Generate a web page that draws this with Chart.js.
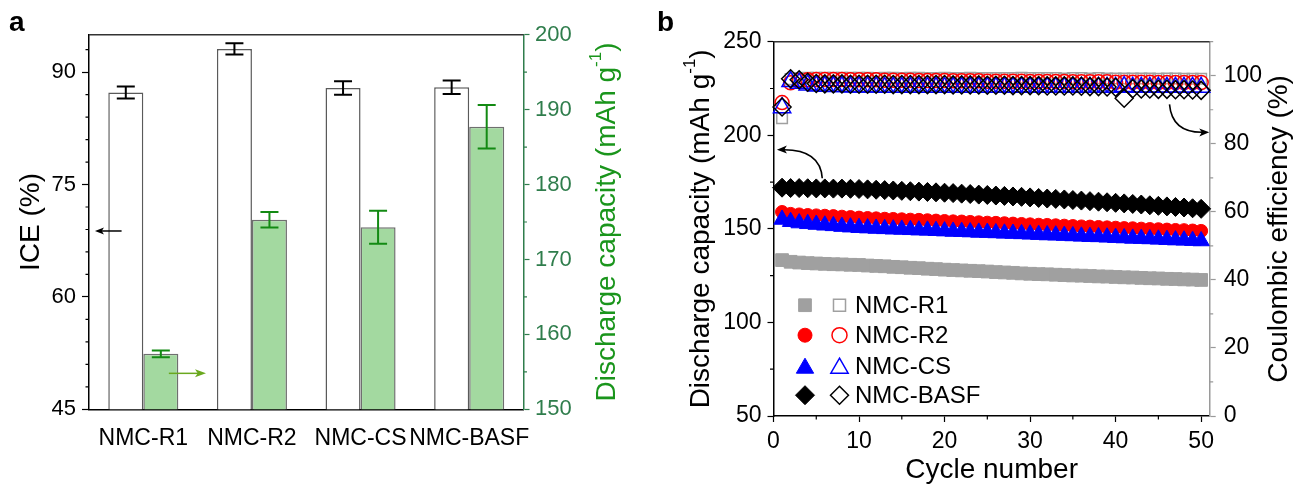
<!DOCTYPE html>
<html>
<head>
<meta charset="utf-8">
<script src="https://cdn.jsdelivr.net/npm/chart.js@4/dist/chart.umd.min.js"></script>
<style>
  html, body { margin: 0; padding: 0; background: #fff; }
  #wrap { position: relative; width: 1297px; height: 490px; overflow: hidden; }
  #chartA { position: absolute; left: 0; top: 0; }
  #chartB { position: absolute; left: 650px; top: 0; }
</style>
</head>
<body>
<div id="wrap">
  <canvas id="chartA" width="650" height="490"></canvas>
  <canvas id="chartB" width="647" height="490"></canvas>
</div>
<script>
// ---- panel a data ----
const categories = ["NMC-R1", "NMC-R2", "NMC-CS", "NMC-BASF"];
const iceValues = [87.3, 93.1, 87.9, 88.0];
const iceErrors = [0.8, 0.75, 0.9, 0.9];
const capValues = [157.4, 175.3, 174.3, 187.7];
const capErrors = [0.45, 1.05, 2.2, 2.9];
const iceTicks = [45, 60, 75, 90];
const iceMinorTicks = [48, 51, 54, 57, 63, 66, 69, 72, 78, 81, 84, 87, 93];
const capTicks = [150, 160, 170, 180, 190, 200];
const capMinorTicks = [155, 165, 175, 185, 195];

// ---- panel b data ----
const cycles = [1, 2, 3, 4, 5, 6, 7, 8, 9, 10, 11, 12, 13, 14, 15, 16, 17, 18, 19, 20,
  21, 22, 23, 24, 25, 26, 27, 28, 29, 30, 31, 32, 33, 34, 35, 36, 37, 38, 39, 40,
  41, 42, 43, 44, 45, 46, 47, 48, 49, 50];
const seriesNames = ["NMC-R1", "NMC-R2", "NMC-CS", "NMC-BASF"];

const capR1 = [133.3, 132.4, 132.0, 131.7, 131.5, 131.3, 131.1, 131.0, 130.8, 130.7,
  130.4, 130.2, 130.0, 129.7, 129.5, 129.2, 129.0, 128.7, 128.5, 128.2,
  128.0, 127.8, 127.6, 127.4, 127.2, 126.9, 126.7, 126.5, 126.2, 126.0,
  125.8, 125.7, 125.5, 125.3, 125.1, 125.0, 124.8, 124.6, 124.5, 124.3,
  124.1, 124.0, 123.8, 123.6, 123.5, 123.3, 123.2, 123.0, 122.9, 122.7];
const capR2 = [159.0, 158.0, 157.7, 157.4, 157.2, 157.0, 156.8, 156.5, 156.3, 156.0,
  155.8, 155.6, 155.4, 155.3, 155.1, 154.9, 154.8, 154.6, 154.4, 154.2,
  154.0, 153.9, 153.7, 153.5, 153.3, 153.2, 153.0, 152.8, 152.6, 152.4,
  152.2, 152.1, 151.9, 151.7, 151.5, 151.3, 151.2, 151.0, 150.8, 150.6,
  150.4, 150.3, 150.1, 149.9, 149.8, 149.6, 149.4, 149.3, 149.1, 148.9];
const capCS = [155.0, 153.8, 153.1, 152.7, 152.3, 151.9, 151.6, 151.2, 150.9, 150.6,
  150.4, 150.2, 150.0, 149.8, 149.7, 149.5, 149.3, 149.2, 149.0, 148.8,
  148.6, 148.5, 148.3, 148.1, 148.0, 147.8, 147.6, 147.5, 147.3, 147.1,
  146.9, 146.7, 146.6, 146.4, 146.2, 146.0, 145.8, 145.7, 145.5, 145.3,
  145.1, 144.9, 144.8, 144.6, 144.4, 144.2, 144.0, 143.9, 143.7, 143.5];
const capBASF = [172.0, 171.8, 171.8, 171.7, 171.6, 171.6, 171.5, 171.5, 171.4, 171.3,
  171.1, 170.9, 170.7, 170.5, 170.3, 170.1, 169.9, 169.7, 169.5, 169.3,
  169.1, 168.8, 168.6, 168.3, 168.1, 167.8, 167.6, 167.3, 167.1, 166.8,
  166.5, 166.2, 166.0, 165.7, 165.4, 165.1, 164.8, 164.5, 164.2, 163.9,
  163.6, 163.3, 163.0, 162.6, 162.3, 162.0, 161.7, 161.4, 161.0, 160.7];

const ceR1 = [87.5, 99.0, 99.3, 99.4, 99.4, 99.4, 99.4, 99.4, 99.4, 99.4,
  99.4, 99.3, 99.4, 99.4, 99.3, 99.4, 99.4, 99.3, 99.3, 99.4,
  99.3, 99.3, 99.4, 99.3, 99.3, 99.3, 99.3, 99.3, 99.4, 99.3,
  99.3, 99.3, 99.3, 99.2, 99.3, 99.3, 99.2, 99.3, 99.2, 99.2,
  99.2, 99.2, 99.2, 99.2, 99.1, 99.2, 99.2, 99.1, 99.1, 99.1];
const ceR2 = [92.1, 97.9, 98.6, 98.8, 98.9, 98.9, 98.9, 98.9, 98.8, 98.8,
  98.8, 98.8, 98.7, 98.7, 98.7, 98.7, 98.6, 98.6, 98.6, 98.6,
  98.5, 98.5, 98.5, 98.5, 98.4, 98.4, 98.4, 98.4, 98.4, 98.3,
  98.3, 98.3, 98.3, 98.3, 98.2, 98.2, 98.2, 98.2, 98.2, 98.1,
  98.1, 98.1, 98.1, 98.1, 98.0, 98.0, 98.0, 98.0, 98.0, 98.0];
const ceCS = [90.6, 98.3, 97.8, 97.3, 97.0, 96.9, 96.8, 96.8, 96.7, 96.7,
  96.7, 96.7, 96.6, 96.6, 96.6, 96.6, 96.6, 96.6, 96.6, 96.6,
  96.6, 96.6, 96.6, 96.6, 96.6, 96.6, 96.6, 96.6, 96.6, 96.6,
  96.6, 96.6, 96.6, 96.6, 96.6, 96.6, 96.6, 96.6, 96.6, 96.6,
  96.8, 96.6, 96.6, 96.6, 96.6, 96.6, 96.6, 96.6, 96.6, 96.6];
const ceBASF = [90.8, 99.1, 98.8, 98.1, 97.7, 97.6, 97.6, 97.6, 97.5, 97.5,
  97.5, 97.5, 97.5, 97.4, 97.4, 97.4, 97.4, 97.4, 97.4, 97.4,
  97.3, 97.3, 97.3, 97.3, 97.2, 97.2, 97.2, 97.1, 97.1, 97.1,
  97.1, 97.0, 97.0, 97.0, 97.0, 96.9, 96.8, 96.8, 96.7, 96.6,
  93.4, 96.2, 96.1, 96.1, 96.0, 96.0, 95.9, 95.9, 95.8, 95.7];
const capTicksB = [50, 100, 150, 200, 250];
const capMinorTicksB = [75, 125, 175, 225];
const ceTicks = [0, 20, 40, 60, 80, 100];
const ceMinorTicks = [10, 30, 50, 70, 90, 110];
const cycleTicks = [0, 10, 20, 30, 40, 50];
const cycleMinorTicks = [5, 15, 25, 35, 45];

const FONT = "'Liberation Sans', Arial, Helvetica, sans-serif";
const GREEN_AXIS = "#2f7d4c";
const GREEN_TITLE = "#1a951c";
const GREEN_ERR = "#138a13";

// ---- helpers ----
function setTicks(values) {
  return s => { s.ticks = values.map(v => ({ value: v })); };
}

function minorTicks(ctx, scale, values, len, color) {
  ctx.save();
  ctx.strokeStyle = color;
  ctx.lineWidth = 1.2;
  ctx.beginPath();
  values.forEach(v => {
    const p = scale.getPixelForValue(v);
    if (scale.position === "left") { ctx.moveTo(scale.right - len, p); ctx.lineTo(scale.right, p); }
    else if (scale.position === "right") { ctx.moveTo(scale.left, p); ctx.lineTo(scale.left + len, p); }
    else { ctx.moveTo(p, scale.top); ctx.lineTo(p, scale.top + len); }
  });
  ctx.stroke();
  ctx.restore();
}

// parts: [text, size, rise]; draws text rotated -90deg centred on (x, y)
function verticalTitle(ctx, x, y, parts, color) {
  ctx.save();
  ctx.translate(x, y);
  ctx.rotate(-Math.PI / 2);
  ctx.fillStyle = color;
  ctx.textBaseline = "middle";
  ctx.textAlign = "left";
  let total = 0;
  parts.forEach(p => { ctx.font = p[1] + "px " + FONT; total += ctx.measureText(p[0]).width; });
  let cx = -total / 2;
  parts.forEach(p => {
    ctx.font = p[1] + "px " + FONT;
    ctx.fillText(p[0], cx, -(p[2] || 0));
    cx += ctx.measureText(p[0]).width;
  });
  ctx.restore();
}

function arrowHead(ctx, x, y, angle, len, half, color) {
  ctx.save();
  ctx.fillStyle = color;
  ctx.translate(x, y);
  ctx.rotate(angle);
  ctx.beginPath();
  ctx.moveTo(0, 0);
  ctx.lineTo(-len, -half);
  ctx.lineTo(-len * 0.75, 0);
  ctx.lineTo(-len, half);
  ctx.closePath();
  ctx.fill();
  ctx.restore();
}

function marker(ctx, style, x, y, r, fill, stroke, lw) {
  ctx.save();
  ctx.beginPath();
  if (style === "rect") {
    const s = r * Math.SQRT1_2;
    ctx.rect(x - s, y - s, 2 * s, 2 * s);
  } else if (style === "circle") {
    ctx.arc(x, y, r, 0, Math.PI * 2);
  } else if (style === "triangle") {
    ctx.moveTo(x, y - r);
    ctx.lineTo(x + r * 0.866, y + r * 0.5);
    ctx.lineTo(x - r * 0.866, y + r * 0.5);
    ctx.closePath();
  } else {
    ctx.moveTo(x, y - r); ctx.lineTo(x + r, y); ctx.lineTo(x, y + r); ctx.lineTo(x - r, y);
    ctx.closePath();
  }
  if (fill) { ctx.fillStyle = fill; ctx.fill(); }
  if (stroke) { ctx.strokeStyle = stroke; ctx.lineWidth = lw; ctx.stroke(); }
  ctx.restore();
}

// ---- panel a ----
const errorBars = {
  id: "errorBars",
  afterDatasetsDraw(chart) {
    const ctx = chart.ctx;
    chart.data.datasets.forEach((ds, i) => {
      const meta = chart.getDatasetMeta(i);
      const scale = chart.scales[ds.yAxisID];
      ctx.save();
      ctx.strokeStyle = ds.errorColor;
      ctx.lineWidth = 2;
      ctx.beginPath();
      meta.data.forEach((bar, j) => {
        const hi = scale.getPixelForValue(ds.data[j] + ds.errors[j]);
        const lo = scale.getPixelForValue(ds.data[j] - ds.errors[j]);
        ctx.moveTo(bar.x, hi); ctx.lineTo(bar.x, lo);
        ctx.moveTo(bar.x - 9, hi); ctx.lineTo(bar.x + 9, hi);
        ctx.moveTo(bar.x - 9, lo); ctx.lineTo(bar.x + 9, lo);
      });
      ctx.stroke();
      ctx.restore();
    });
  }
};

const decorA = {
  id: "decorA",
  afterDraw(chart) {
    const ctx = chart.ctx;
    const a = chart.chartArea;
    const sx = chart.scales.x, sIce = chart.scales.yIce, sCap = chart.scales.yCap;
    // top frame
    ctx.save();
    ctx.strokeStyle = "#333";
    ctx.lineWidth = 1.5;
    ctx.beginPath();
    ctx.moveTo(a.left, a.top); ctx.lineTo(a.right, a.top);
    ctx.stroke();
    ctx.restore();
    minorTicks(ctx, sIce, iceMinorTicks, 3.5, "#000");
    minorTicks(ctx, sCap, capMinorTicks, 3.5, GREEN_AXIS);
    // titles
    verticalTitle(ctx, a.left - 58, (a.top + a.bottom) / 2, [["ICE (%)", 28]], "#000");
    verticalTitle(ctx, a.right + 84, (a.top + a.bottom) / 2,
      [["Discharge capacity (mAh g", 28], ["-1", 17, 11], [")", 28]], GREEN_TITLE);
    // arrows
    ctx.save();
    const yb = sIce.getPixelForValue(68.8);
    const xb1 = sx.getPixelForValue(-0.2), xb0 = sx.getPixelForValue(-0.445);
    ctx.strokeStyle = "#000"; ctx.lineWidth = 1.5;
    ctx.beginPath(); ctx.moveTo(xb1, yb); ctx.lineTo(xb0 + 6, yb); ctx.stroke();
    arrowHead(ctx, xb0, yb, Math.PI, 9, 3.5, "#000");
    const yg = sCap.getPixelForValue(154.8);
    const xg0 = sx.getPixelForValue(0.235), xg1 = sx.getPixelForValue(0.577);
    ctx.strokeStyle = "#6aa81e"; ctx.lineWidth = 1.5;
    ctx.beginPath(); ctx.moveTo(xg0, yg); ctx.lineTo(xg1 - 6, yg); ctx.stroke();
    arrowHead(ctx, xg1, yg, 0, 11, 4, "#6aa81e");
    ctx.restore();
    // panel letter
    ctx.save();
    ctx.fillStyle = "#000";
    ctx.font = "bold 28px " + FONT;
    ctx.textBaseline = "alphabetic";
    ctx.fillText("a", 9, 31);
    ctx.restore();
  }
};

new Chart(document.getElementById("chartA"), {
  type: "bar",
  data: {
    labels: categories,
    datasets: [
      {
        label: "ICE",
        data: iceValues,
        errors: iceErrors,
        errorColor: "#000",
        yAxisID: "yIce",
        backgroundColor: "#ffffff",
        borderColor: "#5a5a5a",
        borderWidth: 1.5,
        categoryPercentage: 0.645,
        barPercentage: 1.0
      },
      {
        label: "Discharge capacity",
        data: capValues,
        errors: capErrors,
        errorColor: GREEN_ERR,
        yAxisID: "yCap",
        backgroundColor: "#a3d9a0",
        borderColor: "#6f6f6f",
        borderWidth: 1.5,
        categoryPercentage: 0.645,
        barPercentage: 1.0
      }
    ]
  },
  options: {
    responsive: false,
    animation: false,
    events: [],
    layout: { padding: { top: 34.7, left: 0, right: 0, bottom: 0 } },
    plugins: { legend: { display: false }, tooltip: { enabled: false } },
    scales: {
      x: {
        grid: { display: false, drawTicks: false },
        border: { display: true, color: "#000", width: 1.5 },
        ticks: { color: "#000", font: { family: FONT, size: 23 }, padding: 16,
          maxRotation: 0, minRotation: 0, autoSkip: false },
        afterFit: s => { s.height = 80.7; }
      },
      yIce: {
        position: "left",
        min: 45, max: 95,
        ticks: { color: "#000", font: { family: FONT, size: 22 }, padding: 6 },
        grid: { drawOnChartArea: false, tickLength: 7, tickColor: "#000", tickWidth: 1.2 },
        border: { color: "#000", width: 1.5 },
        afterBuildTicks: setTicks(iceTicks),
        afterFit: s => { s.width = 89; }
      },
      yCap: {
        position: "right",
        min: 150, max: 200,
        ticks: { color: GREEN_AXIS, font: { family: FONT, size: 22 }, padding: 5.5 },
        grid: { drawOnChartArea: false, tickLength: 6, tickColor: GREEN_AXIS, tickWidth: 1.2 },
        border: { color: GREEN_AXIS, width: 1.5 },
        afterBuildTicks: setTicks(capTicks),
        afterFit: s => { s.width = 126.5; }
      }
    }
  },
  plugins: [errorBars, decorA]
});

// ---- panel b ----
const capSeries = [capR1, capR2, capCS, capBASF];
const ceSeries = [ceR1, ceR2, ceCS, ceBASF];
const colors = ["#a0a0a0", "#ff0000", "#0000ff", "#000000"];
const styles = ["rect", "circle", "triangle", "rectRot"];
const filledRadius = [9, 6.5, 9.5, 9.5];
const openRadius = [7.5, 7, 10, 9];

function points(values) {
  return values.map((v, i) => ({ x: cycles[i], y: v }));
}

const datasetsB = [];
seriesNames.forEach((name, i) => {
  datasetsB.push({
    label: name + " capacity",
    data: points(capSeries[i]),
    yAxisID: "y",
    pointStyle: styles[i],
    pointRadius: filledRadius[i],
    pointHoverRadius: filledRadius[i],
    backgroundColor: colors[i],
    borderColor: colors[i],
    borderWidth: 1,
    order: 4 - i,
    clip: false
  });
  datasetsB.push({
    label: name + " CE",
    data: points(ceSeries[i]),
    yAxisID: "y2",
    pointStyle: styles[i],
    pointRadius: openRadius[i],
    pointHoverRadius: openRadius[i],
    backgroundColor: "rgba(0,0,0,0)",
    borderColor: colors[i],
    borderWidth: 1.5,
    order: 4 - i,
    clip: false
  });
});

const decorB = {
  id: "decorB",
  afterDraw(chart) {
    const ctx = chart.ctx;
    const a = chart.chartArea;
    const sx = chart.scales.x, sy = chart.scales.y, sy2 = chart.scales.y2;
    ctx.save();
    ctx.strokeStyle = "#333";
    ctx.lineWidth = 1.5;
    ctx.beginPath();
    ctx.moveTo(a.left, a.top); ctx.lineTo(a.right, a.top);
    ctx.stroke();
    ctx.restore();
    minorTicks(ctx, sy, capMinorTicksB, 3.5, "#000");
    minorTicks(ctx, sy2, ceMinorTicks, 3.5, "#9a9a9a");
    minorTicks(ctx, sx, cycleMinorTicks, 3.5, "#000");
    // titles
    verticalTitle(ctx, a.left - 72, (a.top + a.bottom) / 2,
      [["Discharge capacity (mAh g", 28], ["-1", 17, 11], [")", 28]], "#000");
    verticalTitle(ctx, a.right + 70, (a.top + a.bottom) / 2, [["Coulombic efficiency (%)", 28]], "#000");
    ctx.save();
    ctx.fillStyle = "#000";
    ctx.font = "28px " + FONT;
    ctx.textAlign = "center";
    ctx.textBaseline = "middle";
    ctx.fillText("Cycle number", (a.left + a.right) / 2, 470);
    ctx.restore();
    // curved arrows
    ctx.save();
    ctx.strokeStyle = "#000";
    ctx.lineWidth = 1.6;
    const t1 = [sx.getPixelForValue(5.7), sy.getPixelForValue(177.0)];
    const c1 = [sx.getPixelForValue(5.5), sy.getPixelForValue(192.5)];
    const h1 = [sx.getPixelForValue(0.4), sy.getPixelForValue(192.3)];
    ctx.beginPath(); ctx.moveTo(t1[0], t1[1]); ctx.quadraticCurveTo(c1[0], c1[1], h1[0] + 6, h1[1]); ctx.stroke();
    arrowHead(ctx, h1[0], h1[1], Math.atan2(h1[1] - c1[1], h1[0] - c1[0]), 10, 4, "#000");
    const t2 = [sx.getPixelForValue(46.3), sy2.getPixelForValue(91.6)];
    const c2 = [sx.getPixelForValue(46.6), sy2.getPixelForValue(83.2)];
    const h2 = [sx.getPixelForValue(50.95), sy2.getPixelForValue(83.4)];
    ctx.beginPath(); ctx.moveTo(t2[0], t2[1]); ctx.quadraticCurveTo(c2[0], c2[1], h2[0] - 6, h2[1]); ctx.stroke();
    arrowHead(ctx, h2[0], h2[1], Math.atan2(h2[1] - c2[1], h2[0] - c2[0]), 10, 4, "#000");
    ctx.restore();
    // legend
    const rowY = [263.5, 293.5, 324.5, 353.5];
    const legFilled = [9, 7, 10, 9.5];
    const legOpen = [8.5, 7.5, 10, 9];
    seriesNames.forEach((name, i) => {
      const y = a.top + rowY[i];
      const st = styles[i];
      const fy = st === "triangle" ? y + 2 : y;
      marker(ctx, st, a.left + 31.5, fy, legFilled[i], colors[i], colors[i], 1);
      marker(ctx, st, a.left + 66, fy, legOpen[i], null, colors[i], 1.5);
      ctx.save();
      ctx.fillStyle = "#000";
      ctx.font = "24px " + FONT;
      ctx.textBaseline = "middle";
      ctx.fillText(name, a.left + 81.5, y + 1);
      ctx.restore();
    });
    ctx.save();
    ctx.fillStyle = "#000";
    ctx.font = "bold 28px " + FONT;
    ctx.fillText("b", 7, 31);
    ctx.restore();
  }
};

new Chart(document.getElementById("chartB"), {
  type: "scatter",
  data: { datasets: datasetsB },
  options: {
    responsive: false,
    animation: false,
    events: [],
    layout: { padding: { top: 41.7, left: 0, right: 0, bottom: 0 } },
    plugins: { legend: { display: false }, tooltip: { enabled: false } },
    scales: {
      x: {
        type: "linear",
        min: 0, max: 51,
        ticks: { color: "#000", font: { family: FONT, size: 23 }, padding: 6, maxRotation: 0, autoSkip: false },
        grid: { drawOnChartArea: false, tickLength: 6, tickColor: "#000", tickWidth: 1.2 },
        border: { color: "#000", width: 1.5 },
        afterBuildTicks: setTicks(cycleTicks),
        afterFit: s => { s.height = 74; }
      },
      y: {
        position: "left",
        min: 50, max: 250,
        ticks: { color: "#000", font: { family: FONT, size: 23 }, padding: 6 },
        grid: { drawOnChartArea: false, tickLength: 6, tickColor: "#000", tickWidth: 1.2 },
        border: { color: "#000", width: 1.5 },
        afterBuildTicks: setTicks(capTicksB),
        afterFit: s => { s.width = 123.5; }
      },
      y2: {
        position: "right",
        min: 0, max: 110,
        ticks: { color: "#000", font: { family: FONT, size: 23 }, padding: 8 },
        grid: { drawOnChartArea: false, tickLength: 6, tickColor: "#9a9a9a", tickWidth: 1.2 },
        border: { color: "#9a9a9a", width: 1.5 },
        afterBuildTicks: setTicks(ceTicks),
        afterFit: s => { s.width = 87.3; }
      }
    }
  },
  plugins: [decorB]
});
</script>
</body>
</html>
